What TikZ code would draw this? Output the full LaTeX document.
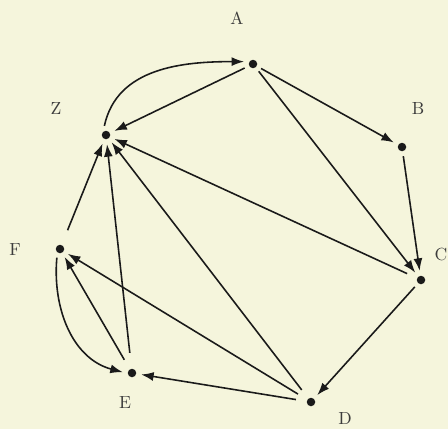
\documentclass[tikz,border=0pt]{standalone}
\usepackage{xcolor}
\usepackage{tikz}
\usetikzlibrary{arrows.meta}
\definecolor{paper}{HTML}{F5F5DC}
\definecolor{ink}{HTML}{1A1A1A}

\begin{document}
\begin{tikzpicture}[
  x=0.02cm, y=-0.02cm,
  dot/.style={circle, fill=ink, inner sep=0pt, minimum size=0.17cm, outer sep=0.1cm},
  lbl/.style={font=\normalsize, text=ink!85},
  arr/.style={-{Latex[length=2.5mm,width=1.8mm]}, draw=ink, line width=0.9pt},
  far/.style={shorten <=0.12cm}
]
\fill[paper] (0,0) rectangle (448,429);
\useasboundingbox (0,0) rectangle (448,429);

% vertices
\node[dot] (A) at (253,64)  {};
\node[dot] (B) at (402,147) {};
\node[dot] (C) at (421,280) {};
\node[dot] (D) at (311,402) {};
\node[dot] (E) at (132,373) {};
\node[dot] (F) at (60,249)  {};
\node[dot] (Z) at (106,135) {};

% names
\node[lbl] (la) at (237,18)  {A};
\node[lbl] (lb) at (418,108) {B};
\node[lbl] (lc) at (441,254) {C};
\node[lbl] (ld) at (345,418) {D};
\node[lbl] (le) at (125,403) {E};
\node[lbl] (lf) at (15,250)  {F};
\node[lbl] (lz) at (56,108)  {Z};

% edges
\draw[arr] (A) -- (Z);
\draw[arr] (A) -- (B);
\draw[arr] (A) -- (C);
\draw[arr] (B) -- (C);
\draw[arr, far] (C) -- (Z);
\draw[arr] (C) -- (D);
\draw[arr, far] (D) -- (E);
\draw[arr, far] (D) -- (F);
\draw[arr, far] (D) -- (Z);
\draw[arr, far] (E) -- (F);
\draw[arr, shorten <=0.22cm] (E) -- (Z);
\draw[arr, shorten <=0.22cm] (F) -- (Z);
\draw[arr] (Z.100) to[out=78, in=180] (A.165);
\draw[arr] (F.250) to[out=265, in=165] (E.175);
\end{tikzpicture}
\end{document}
